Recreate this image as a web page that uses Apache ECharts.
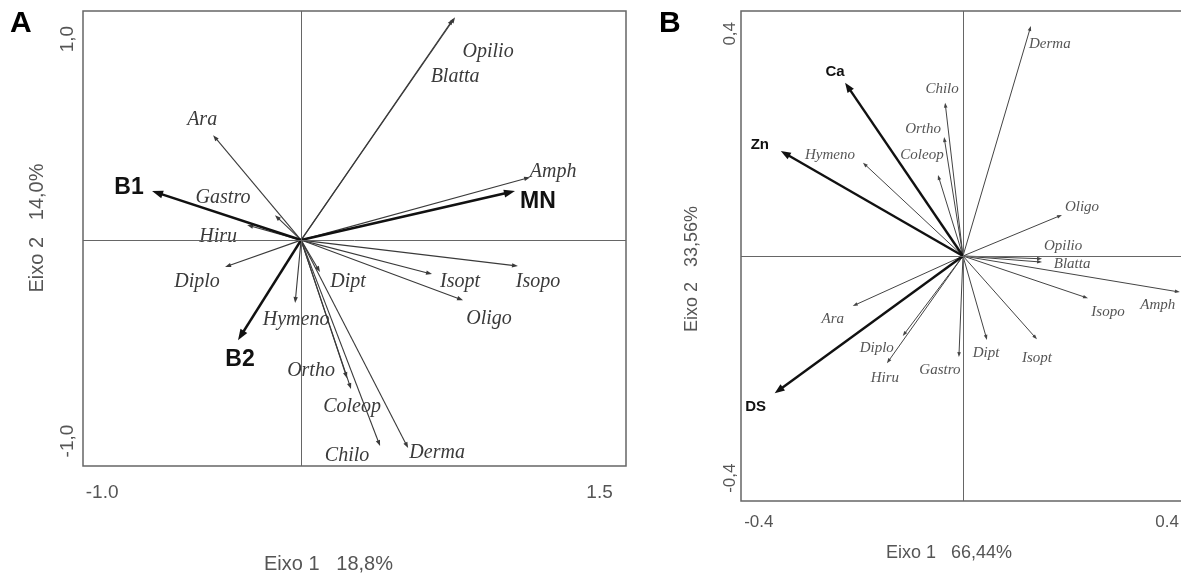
<!DOCTYPE html>
<html><head><meta charset="utf-8">
<script src="https://cdn.jsdelivr.net/npm/echarts@6/dist/echarts.min.js"></script>
<style>html,body{margin:0;padding:0;background:#fff}#c{width:1181px;height:575px}</style>
</head><body><div id="c"></div>
<script>
// ---------- Panel A data ----------
const speciesA  = ['Ara','Gastro','Hiru','Diplo','Hymeno','Dipt','Isopt','Isopo','Oligo','Ortho','Coleop','Chilo','Derma','Amph','Opilio','Blatta'];
const speciesAx = [-0.442,-0.131,-0.271,-0.382,-0.030,0.095,0.658,1.090,0.814,0.231,0.251,0.397,0.538,1.151,0.774,0.764];
const speciesAy = [0.522,0.124,0.075,-0.134,-0.313,-0.159,-0.169,-0.129,-0.299,-0.687,-0.741,-1.025,-1.035,0.313,1.109,1.100];
const envA  = ['B1','B2','MN'];
const envAx = [-0.749,-0.317,1.075];
const envAy = [0.244,-0.498,0.244];
const ticksAx = [-1.0, 1.5];
const ticksAxText = ['-1.0','1.5'];
const ticksAy = [-1.0, 1.0];
const ticksAyText = ['-1,0','1,0'];
const titleAx = 'Eixo 1   18,8%';
const titleAy = 'Eixo 2   14,0%';

// ---------- Panel B data ----------
const speciesB  = ['Derma','Chilo','Ortho','Coleop','Hymeno','Oligo','Opilio','Blatta','Amph','Isopo','Isopt','Dipt','Gastro','Ara','Diplo','Hiru'];
const speciesBx = [0.133,-0.035,-0.037,-0.049,-0.196,0.194,0.155,0.155,0.425,0.245,0.145,0.047,-0.008,-0.216,-0.118,-0.149];
const speciesBy = [0.414,0.276,0.214,0.146,0.168,0.074,-0.005,-0.011,-0.065,-0.076,-0.150,-0.151,-0.182,-0.090,-0.144,-0.193];
const envB  = ['Ca','Zn','DS'];
const envBx = [-0.231,-0.357,-0.369];
const envBy = [0.312,0.189,-0.247];
const ticksBx = [-0.4, 0.4];
const ticksBxText = ['-0.4','0.4'];
const ticksBy = [-0.4, 0.4];
const ticksByText = ['-0,4','0,4'];
const titleBx = 'Eixo 1   66,44%';
const titleBy = 'Eixo 2   33,56%';

// ---------- label placement (pixel offsets from arrow tips, style only) ----------
const offSpeciesA = [[-11,-15],[-52,-17],[-29,12],[-28,15],[1,17],[28,10],[28,8],[20,16],[26,19],[-36,-7],[1,18],[-33,10],[29,5],[23,-5],[33,35],[2,58]];
const offEnvA = [[-23,-3],[2,19],[23,11]];
const offSpeciesB = [[19,18],[-3,-14],[-21,-8],[-16,-20],[-33,-8],[20,-8],[21,-13],[30,2],[-22,13],[20,14],[0,19],[-1,13],[-19,13],[-20,13],[-26,12],[-2,15]];
const offEnvB = [[-10,-11],[-21,-6],[-19,14]];

function zip(xs, ys){ return xs.map((x,i)=>[x, ys[i]]); }
function lookup(vals, texts){ return v => { for (let i=0;i<vals.length;i++) if (Math.abs(vals[i]-v)<1e-9) return texts[i]; return ''; }; }

function arrowRender(names, offs, st){
  return function(params, api){
    const i = params.dataIndex;
    const o = api.coord([0,0]);
    const p = api.coord([api.value(0), api.value(1)]);
    const a = Math.atan2(p[1]-o[1], p[0]-o[0]);
    const c = Math.cos(a), s = Math.sin(a);
    const bx = p[0]-st.head*c, by = p[1]-st.head*s;
    const nx = -s*st.hw, ny = c*st.hw;
    const ex = p[0]-st.head*0.6*c, ey = p[1]-st.head*0.6*s;
    return {type:'group', children:[
      {type:'line', shape:{x1:o[0],y1:o[1],x2:ex,y2:ey}, style:{stroke:st.color, lineWidth:st.width}},
      {type:'polygon', shape:{points:[[p[0],p[1]],[bx+nx,by+ny],[bx-nx,by-ny]]}, style:{fill:st.color}},
      {type:'text', x:p[0]+offs[i][0], y:p[1]+offs[i][1], style:{text:names[i], align:'center', verticalAlign:'middle',
        fontSize:st.fs, fontFamily:st.ff, fontStyle:st.fst, fontWeight:st.fw, fill:st.tc}}
    ]};
  };
}

const axisLblBase = {color:'#555', fontFamily:'Liberation Sans'};
const cross = {silent:true, symbol:'none', label:{show:false}, emphasis:{disabled:true},
  lineStyle:{color:'#666', width:1, type:'solid'}, data:[{xAxis:0},{yAxis:0}]};

const option = {
  animation:false,
  backgroundColor:'#fff',
  title:[
    {text:'A', left:10, top:9, padding:0, textStyle:{fontSize:30, fontWeight:'bold', fontFamily:'Liberation Sans', color:'#000'}},
    {text:'B', left:659, top:9, padding:0, textStyle:{fontSize:30, fontWeight:'bold', fontFamily:'Liberation Sans', color:'#000'}}
  ],
  grid:[
    {left:83, right:555, top:11, bottom:109, show:true, borderColor:'#666', borderWidth:1.5, backgroundColor:'transparent', outerBoundsMode:'none'},
    {left:741, width:446, top:11, bottom:74, show:true, borderColor:'#666', borderWidth:1.5, backgroundColor:'transparent', outerBoundsMode:'none'}
  ],
  xAxis:[
    {gridIndex:0, type:'value', min:-1.096, max:1.633, splitLine:{show:false}, axisLine:{show:false}, axisTick:{show:false},
     axisLabel:Object.assign({customValues:ticksAx, formatter:lookup(ticksAx,ticksAxText), margin:17, fontSize:19}, axisLblBase),
     name:titleAx, nameLocation:'middle', nameGap:88,
     nameTextStyle:{fontSize:20, color:'#555', fontFamily:'Liberation Sans', padding:[0,52,0,0]}},
    {gridIndex:1, type:'value', min:-0.435, max:0.439, splitLine:{show:false}, axisLine:{show:false}, axisTick:{show:false},
     axisLabel:Object.assign({customValues:ticksBx, formatter:lookup(ticksBx,ticksBxText), margin:13, fontSize:17}, axisLblBase),
     name:titleBx, nameLocation:'middle', nameGap:43,
     nameTextStyle:{fontSize:18, color:'#555', fontFamily:'Liberation Sans', padding:[0,30,0,0]}}
  ],
  yAxis:[
    {gridIndex:0, type:'value', min:-1.124, max:1.14, splitLine:{show:false}, axisLine:{show:false}, axisTick:{show:false},
     axisLabel:Object.assign({customValues:ticksAy, formatter:lookup(ticksAy,ticksAyText), margin:6, fontSize:19, rotate:90}, axisLblBase),
     name:titleAy, nameLocation:'middle', nameGap:36,
     nameTextStyle:{fontSize:20, color:'#555', fontFamily:'Liberation Sans', padding:[0,0,0,21]}},
    {gridIndex:1, type:'value', min:-0.441, max:0.441, splitLine:{show:false}, axisLine:{show:false}, axisTick:{show:false},
     axisLabel:Object.assign({customValues:ticksBy, formatter:lookup(ticksBy,ticksByText), margin:2, fontSize:17, rotate:90}, axisLblBase),
     name:titleBy, nameLocation:'middle', nameGap:40,
     nameTextStyle:{fontSize:18, color:'#555', fontFamily:'Liberation Sans', padding:[0,26,0,0]}}
  ],
  series:[
    {type:'custom', xAxisIndex:0, yAxisIndex:0, data:zip(speciesAx,speciesAy), silent:true, z:3,
     renderItem:arrowRender(speciesA, offSpeciesA, {color:'#3a3a3a', width:1.1, head:6, hw:2.2, fs:20, ff:'Liberation Serif', fst:'italic', fw:'normal', tc:'#3a3a3a'}),
     markLine:cross},
    {type:'custom', xAxisIndex:0, yAxisIndex:0, data:zip(envAx,envAy), silent:true, z:4,
     renderItem:arrowRender(envA, offEnvA, {color:'#111', width:2.6, head:11, hw:4, fs:23, ff:'Liberation Sans', fst:'normal', fw:'bold', tc:'#111'})},
    {type:'custom', xAxisIndex:1, yAxisIndex:1, data:zip(speciesBx,speciesBy), silent:true, z:3,
     renderItem:arrowRender(speciesB, offSpeciesB, {color:'#444', width:1, head:5, hw:1.8, fs:15, ff:'Liberation Serif', fst:'italic', fw:'normal', tc:'#555'}),
     markLine:cross},
    {type:'custom', xAxisIndex:1, yAxisIndex:1, data:zip(envBx,envBy), silent:true, z:4,
     renderItem:arrowRender(envB, offEnvB, {color:'#111', width:2.4, head:10, hw:3.8, fs:15, ff:'Liberation Sans', fst:'normal', fw:'bold', tc:'#111'})}
  ]
};
const chart = echarts.init(document.getElementById('c'), null, {renderer:'canvas'});
chart.setOption(option);
</script></body></html>
